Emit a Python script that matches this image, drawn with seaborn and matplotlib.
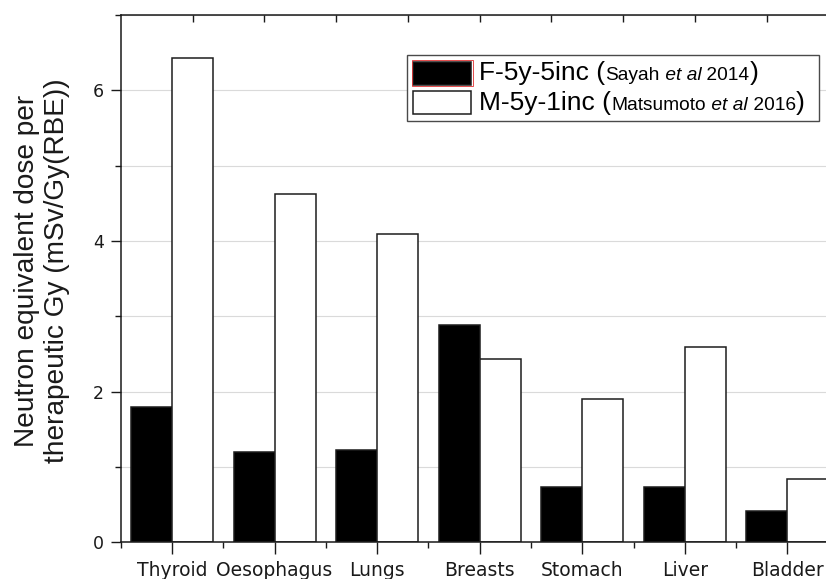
import numpy as np
import pandas as pd
import matplotlib
matplotlib.use("Agg")
import matplotlib.pyplot as plt
from matplotlib.patches import Rectangle
from matplotlib.offsetbox import AnchoredOffsetbox, DrawingArea, HPacker, TextArea, VPacker
from matplotlib.ticker import MultipleLocator
import seaborn as sns

# Neutron equivalent dose per therapeutic Gy, by organ
organs = ["Thyroid", "Oesophagus", "Lungs", "Breasts", "Stomach", "Liver", "Bladder"]
f5y_5inc = [1.79, 1.20, 1.23, 2.88, 0.73, 0.74, 0.41]      # Sayah et al 2014
m5y_1inc = [6.43, 4.62, 4.09, 2.43, 1.90, 2.59, 0.84]      # Matsumoto et al 2016
series_names = ["F-5y-5inc", "M-5y-1inc"]
series_refs = [("Sayah", "2014"), ("Matsumoto", "2016")]
series_colors = ["#000000", "#ffffff"]
y_major = [0, 2, 4, 6]

sns.set_style("ticks")
plt.rcParams["font.family"] = ["Liberation Sans", "DejaVu Sans"]

df = pd.DataFrame({
    "organ": organs * 2,
    "dose": f5y_5inc + m5y_1inc,
    "series": [series_names[0]] * len(organs) + [series_names[1]] * len(organs),
})

W, H = 826, 579
fig = plt.figure(figsize=(W / 100, H / 100), dpi=100)
ax = fig.add_axes([120.8 / W, 1 - 542.3 / H, 717.8 / W, 527.3 / H])

sns.barplot(data=df, x="organ", y="dose", hue="series", order=organs,
            hue_order=series_names, palette=series_colors, saturation=1,
            width=0.8, edgecolor="#1c1c1c", linewidth=1.1, legend=False, ax=ax)

ax.set_xlim(-0.5, len(organs) - 0.5)
ax.set_ylim(0, 7)
ax.set_axisbelow(True)

# y axis: major ticks every 2, minor every 1, grid on both
ax.yaxis.set_major_locator(plt.FixedLocator(y_major))
ax.yaxis.set_minor_locator(MultipleLocator(1))
ax.yaxis.grid(True, which="both", color="#dadada", linewidth=0.8)
ax.xaxis.grid(False)
ax.tick_params(axis="y", which="major", direction="out", length=7.2, width=1.0,
               pad=4.8, labelsize=12.5, colors="#1a1a1a")
ax.tick_params(axis="y", which="minor", direction="out", length=4.3, width=1.0,
               color="#1a1a1a")
for lbl in ax.get_yticklabels():
    lbl.set_family("DejaVu Sans")

# x axis: organ names at bar-group centres, minor ticks between groups
ax.set_xticks(range(len(organs)))
ax.set_xticks(np.arange(-0.5, len(organs), 1.0), minor=True)
ax.set_xticklabels(organs, family="DejaVu Sans", fontsize=13.5, color="#1a1a1a")
ax.tick_params(axis="x", which="major", direction="out", length=8.6, width=1.0,
               pad=5, colors="#1a1a1a")
ax.tick_params(axis="x", which="minor", direction="out", length=4.3, width=1.0,
               color="#1a1a1a")
ax.set_xlabel("")

for sp in ax.spines.values():
    sp.set_visible(True)
    sp.set_linewidth(1.1)
    sp.set_color("#1a1a1a")

ax.set_ylabel("Neutron equivalent dose per\ntherapeutic Gy (mSv/Gy(RBE))",
              fontsize=20.2, color="#1a1a1a")
ax.yaxis.set_label_coords(-0.0705, 0.5145)

# top axis: evenly spaced inward ticks without labels
ax_top = ax.twiny()
ax_top.set_xlim(0, 10)
ax_top.set_xticks(range(1, 10))
ax_top.tick_params(axis="x", top=True, bottom=False, direction="in", length=4.8,
                   width=1.0, labeltop=False, color="#1a1a1a")
for sp in ax_top.spines.values():
    sp.set_visible(False)

# legend with mixed-size labels
big = dict(family="Liberation Sans", size=19, color="black")
small = dict(family="Liberation Sans", size=13.8, color="black")
small_it = dict(small, style="italic")


def legend_row(color, name, author, year, outline=None):
    hw, hh = 41.8, 16.6
    da = DrawingArea(hw, hh, 0, 0)
    da.add_artist(Rectangle((0, 0), hw, hh, facecolor=color, edgecolor="#1c1c1c",
                            linewidth=1.1))
    if outline:
        da.add_artist(Rectangle((-1.2, -1.2), hw + 2.4, hh + 2.4, facecolor="none",
                                edgecolor=outline, linewidth=0.6))
    texts = HPacker(children=[TextArea(name + " (", textprops=big),
                              TextArea(author, textprops=small),
                              TextArea(" et al", textprops=small_it),
                              TextArea(" " + year, textprops=small),
                              TextArea(")", textprops=big)],
                    align="baseline", pad=0, sep=0)
    return HPacker(children=[da, texts, DrawingArea(0, 1, 0, 0)],
                   align="center", pad=0, sep=5.8)


rows = [legend_row(series_colors[0], series_names[0], *series_refs[0], outline="#e03030"),
        legend_row(series_colors[1], series_names[1], *series_refs[1])]
box = VPacker(children=rows, align="left", pad=4.5, sep=4)
leg = AnchoredOffsetbox(loc="upper left", child=box, pad=0, borderpad=0, frameon=True,
                        bbox_to_anchor=(407 / W, 1 - 55 / H),
                        bbox_transform=fig.transFigure)
leg.patch.set_edgecolor("#4a4a4a")
leg.patch.set_facecolor("white")
leg.patch.set_linewidth(1.0)
leg.set_zorder(10)
ax_top.add_artist(leg)

fig.savefig("out.png", dpi=100)
